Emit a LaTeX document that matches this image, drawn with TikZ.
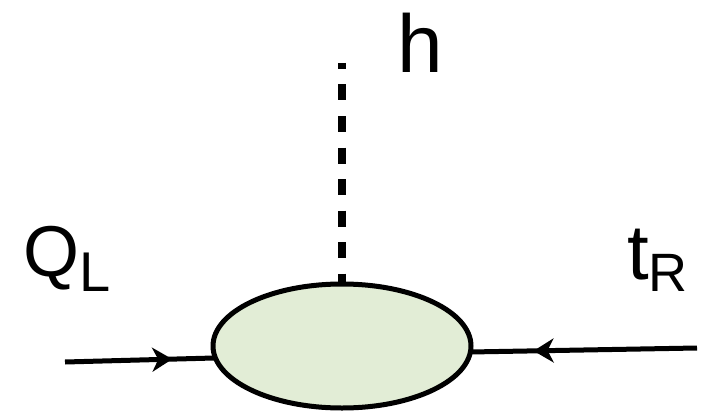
\documentclass[tikz,border=0pt]{standalone}
\usepackage{fontspec}
\setmainfont{Liberation Sans}
\usetikzlibrary{arrows.meta,decorations.markings}
\definecolor{blobfill}{HTML}{E2EDD6}
\tikzset{
  fermion/.style={line width=5pt, postaction={decorate},
    decoration={markings, mark=at position #1 with {\arrow{Stealth[length=20pt,width=24pt,inset=6pt]}}}},
  scalar/.style={line width=8pt, dash pattern=on 16pt off 15.5pt, dash phase=10pt},
  lab/.style={anchor=base west, inner sep=0pt},
}
\begin{document}
\begin{tikzpicture}[x=1pt,y=-1pt]
\useasboundingbox (0,0) rectangle (703,417);
\coordinate (top) at (342,63);
\coordinate (bl) at (342,285);
\coordinate (lin) at (65,362);
\coordinate (lend) at (214,358);
\coordinate (rin) at (697,348);
\coordinate (rend) at (470,352);
\draw[scalar] (top) -- (bl);
\draw[fermion=0.72] (lin) -- (lend);
\draw[fermion=0.72] (rin) -- (rend);
\draw[line width=5pt, fill=blobfill] (342,346) ellipse [x radius=129, y radius=62];
\node[lab, font=\fontsize{82}{82}\selectfont] (h) at (397,73) {h};
\node[lab, font=\fontsize{72}{72}\selectfont] (q) at (23,276) {Q\raisebox{-15pt}{\fontsize{56}{56}\selectfont L}};
\node[lab, font=\fontsize{78}{78}\selectfont] (t) at (627,279) {t\raisebox{-12pt}{\fontsize{54}{54}\selectfont R}};
\end{tikzpicture}
\end{document}
